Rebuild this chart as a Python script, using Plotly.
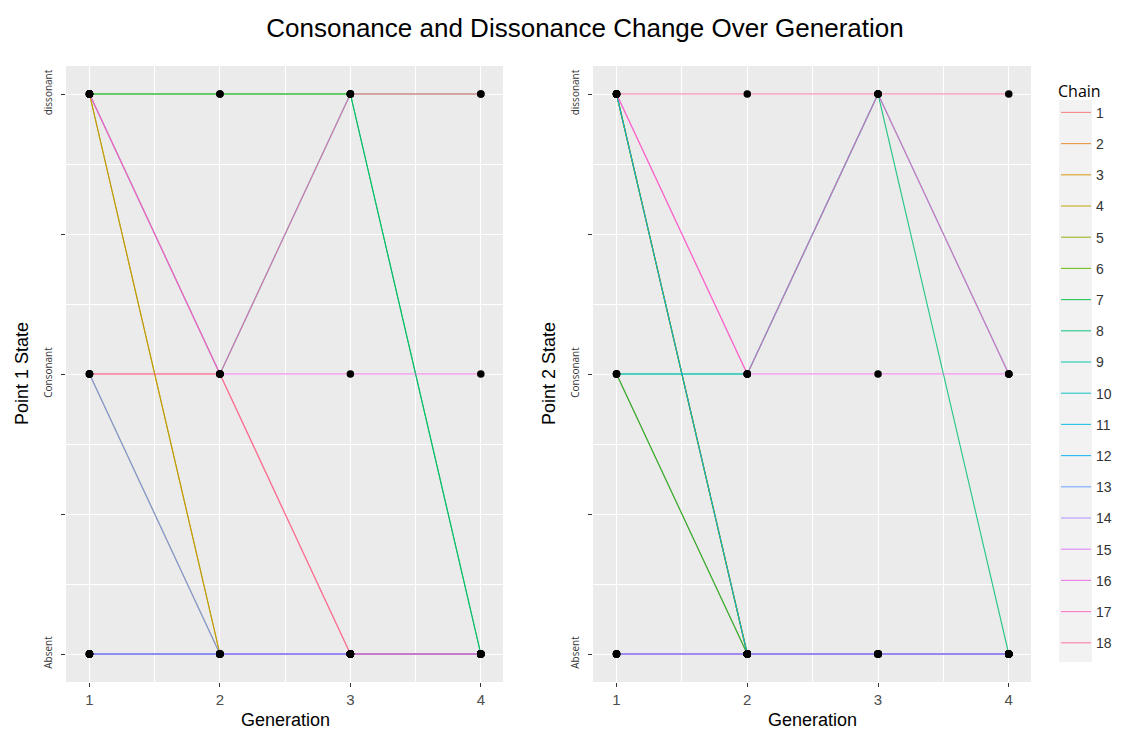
import math
import plotly.graph_objects as go

# ---------------- data ----------------
generations = [1, 2, 3, 4]
state_labels = ["Absent", "Consonant", "dissonant"]
state_values = [1, 2, 3]
chains = [str(i) for i in range(1, 19)]

# state per chain (rows) per generation (columns): 1=Absent, 2=Consonant, 3=dissonant
point1_states = [
    [2, 2, 1, 1],  # 1
    [2, 1, 1, 1],  # 2
    [3, 1, 1, 1],  # 3
    [3, 1, 1, 1],  # 4
    [1, 1, 1, 1],  # 5
    [3, 3, 3, 3],  # 6
    [3, 3, 3, 1],  # 7
    [3, 2, 3, 1],  # 8
    [1, 1, 1, 1],  # 9
    [1, 1, 1, 1],  # 10
    [1, 1, 1, 1],  # 11
    [1, 1, 1, 1],  # 12
    [2, 1, 1, 1],  # 13
    [1, 1, 1, 1],  # 14
    [1, 1, 1, 1],  # 15
    [3, 2, 2, 2],  # 16
    [3, 2, 3, 3],  # 17
    [2, 2, 1, 1],  # 18
]
point2_states = [
    [1, 1, 1, 1],  # 1
    [2, 1, 1, 1],  # 2
    [3, 1, 1, 1],  # 3
    [3, 1, 1, 1],  # 4
    [3, 1, 1, 1],  # 5
    [3, 1, 1, 1],  # 6
    [2, 1, 1, 1],  # 7
    [2, 2, 3, 1],  # 8
    [1, 1, 1, 1],  # 9
    [2, 2, 3, 2],  # 10
    [1, 1, 1, 1],  # 11
    [3, 1, 1, 1],  # 12
    [1, 1, 1, 1],  # 13
    [1, 1, 1, 1],  # 14
    [1, 1, 1, 1],  # 15
    [3, 2, 2, 2],  # 16
    [3, 2, 3, 2],  # 17
    [3, 3, 3, 3],  # 18
]


# ------------- ggplot-like hue palette (style) -------------
def hcl_hex(h, c=100.0, l=65.0):
    Xn, Yn, Zn = 95.047, 100.0, 108.883
    den = Xn + 15 * Yn + 3 * Zn
    un, vn = 4 * Xn / den, 9 * Yn / den
    hr = math.radians(h)
    U, V = c * math.cos(hr), c * math.sin(hr)
    Y = Yn * ((l + 16) / 116) ** 3
    u = U / (13 * l) + un
    v = V / (13 * l) + vn
    X = 9 * Y * u / (4 * v)
    Z = Y * (12 - 3 * u - 20 * v) / (4 * v)
    X, Y, Z = X / 100, Y / 100, Z / 100
    r = 3.240479 * X - 1.537150 * Y - 0.498535 * Z
    g = -0.969256 * X + 1.875992 * Y + 0.041556 * Z
    b = 0.055648 * X - 0.204043 * Y + 1.057311 * Z

    def gam(t):
        t = 12.92 * t if t <= 0.0031308 else 1.055 * t ** (1 / 2.4) - 0.055
        return int(round(min(max(t, 0), 1) * 255))

    return "#%02X%02X%02X" % (gam(r), gam(g), gam(b))


n = len(chains)
colors = [hcl_hex(15 + 360 * i / n) for i in range(n)]

W, H = 1131, 733


def px_x(p):
    return p / W


def px_y(p):
    return 1 - p / H


fig = go.Figure()

panels = [("x", "y", point1_states), ("x2", "y2", point2_states)]
for pi, (xa, ya, states) in enumerate(panels):
    for ci, ch in enumerate(chains):
        fig.add_trace(go.Scatter(
            x=generations, y=states[ci], mode="lines",
            line=dict(color=colors[ci], width=1.1), opacity=0.85,
            name=ch, legendgroup=ch, showlegend=(pi == 0),
            xaxis=xa, yaxis=ya, hoverinfo="skip"))
    px_, py_ = [], []
    for ci in range(len(chains)):
        px_ += generations
        py_ += states[ci]
    fig.add_trace(go.Scatter(
        x=px_, y=py_, mode="markers",
        marker=dict(color="black", size=7.5),
        showlegend=False, xaxis=xa, yaxis=ya, hoverinfo="skip"))

grid_major = dict(showgrid=True, gridcolor="white", gridwidth=1.3)
xcommon = dict(range=[0.82, 4.17], tickvals=generations,
               ticktext=[str(g) for g in generations],
               tickfont=dict(family="Liberation Sans", size=15, color="#4D4D4D"),
               ticks="outside", ticklen=4, tickcolor="#333333", tickwidth=1,
               zeroline=False, showline=False,
               minor=dict(dtick=0.5, tick0=0, showgrid=True, gridcolor="white", gridwidth=1.0, ticks=""),
               **grid_major)
ycommon = dict(range=[0.9, 3.1], tickvals=[1, 1.5, 2, 2.5, 3],
               ticktext=["Absent", "", "Consonant", "", "dissonant"],
               tickangle=-90,
               tickfont=dict(family="Open Sans", size=10, color="#333333"),
               ticks="outside", ticklen=4, tickcolor="#333333", tickwidth=1,
               ticklabelstandoff=5,
               zeroline=False, showline=False,
               minor=dict(dtick=0.25, tick0=0, showgrid=True, gridcolor="white", gridwidth=0.8, ticks=""),
               **grid_major)

ydom = [px_y(682), px_y(66)]
fig.update_layout(
    width=W, height=H,
    margin=dict(l=0, r=0, t=0, b=0),
    paper_bgcolor="white",
    plot_bgcolor="#EBEBEB",
    xaxis=dict(domain=[px_x(66), px_x(503)], anchor="y", **xcommon),
    yaxis=dict(domain=ydom, anchor="x", **ycommon),
    xaxis2=dict(domain=[px_x(593), px_x(1031)], anchor="y2", **xcommon),
    yaxis2=dict(domain=ydom, anchor="x2", **ycommon),
    showlegend=True,
    legend=dict(
        x=px_x(1056), y=px_y(76), xanchor="left", yanchor="top",
        title=dict(text="Chain", font=dict(family="Open Sans", size=16, color="black")),
        font=dict(family="Liberation Sans", size=14, color="#333333"),
        tracegroupgap=10, traceorder="grouped",
        bgcolor="rgba(0,0,0,0)", itemwidth=30,
    ),
    title=dict(text="Consonance and Dissonance Change Over Generation",
               x=px_x(585), xanchor="center", y=px_y(28), yanchor="middle",
               font=dict(family="Liberation Sans", size=26, color="black")),
    shapes=[dict(type="rect", xref="paper", yref="paper",
                 x0=px_x(1059), x1=px_x(1092), y0=px_y(662), y1=px_y(100),
                 fillcolor="#F2F2F2", line=dict(width=0), layer="below")],
    annotations=[
        dict(text="Point 1 State", x=px_x(22), y=px_y(374), xref="paper", yref="paper",
             textangle=-90, showarrow=False, xanchor="center", yanchor="middle",
             font=dict(family="Liberation Sans", size=18, color="black")),
        dict(text="Point 2 State", x=px_x(549), y=px_y(374), xref="paper", yref="paper",
             textangle=-90, showarrow=False, xanchor="center", yanchor="middle",
             font=dict(family="Liberation Sans", size=18, color="black")),
        dict(text="Generation", x=px_x(285), y=px_y(720), xref="paper", yref="paper",
             showarrow=False, xanchor="center", yanchor="middle",
             font=dict(family="Liberation Sans", size=18, color="black")),
        dict(text="Generation", x=px_x(812), y=px_y(720), xref="paper", yref="paper",
             showarrow=False, xanchor="center", yanchor="middle",
             font=dict(family="Liberation Sans", size=18, color="black")),
    ],
)

fig.write_html("out.html")
